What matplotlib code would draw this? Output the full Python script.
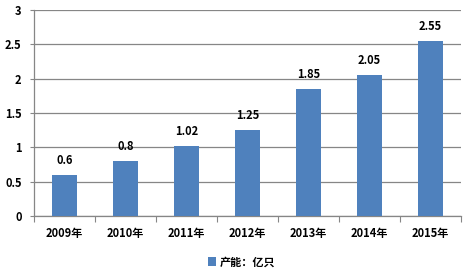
import numpy as np
import matplotlib
matplotlib.use("Agg")
import matplotlib.pyplot as plt
from matplotlib.patches import Patch

plt.rcParams["font.family"] = ["Noto Sans CJK SC", "DejaVu Sans"]

years = ["2009年", "2010年", "2011年", "2012年", "2013年", "2014年", "2015年"]
capacity = [0.6, 0.8, 1.02, 1.25, 1.85, 2.05, 2.55]
value_labels = ["0.6", "0.8", "1.02", "1.25", "1.85", "2.05", "2.55"]
series_name = "产能：亿只"

bar_color = "#4F81BD"
grid_color = "#868686"

fig = plt.figure(figsize=(4.67, 2.70), dpi=100)
ax = fig.add_axes([0.073, 0.2, 0.914, 0.763])

x = np.arange(len(years))
ax.bar(x, capacity, width=0.4, color=bar_color, zorder=3)

for xi, v, lab in zip(x, capacity, value_labels):
    ax.text(xi, v + 0.12, lab, ha="center", va="bottom",
            fontsize=8, fontweight="bold", color="black")

ax.set_xlim(-0.5, len(years) - 0.5)
ax.set_ylim(0, 3)
ax.set_yticks(np.arange(0, 3.01, 0.5))
ax.set_yticklabels(["0", "0.5", "1", "1.5", "2", "2.5", "3"],
                   fontsize=8, fontweight="bold")
ax.yaxis.grid(True, color=grid_color, linewidth=0.9, zorder=0)

# category ticks between bars, labels centred under bars
ax.set_xticks(np.arange(-0.5, len(years), 1.0))
ax.set_xticklabels([])
ax.set_xticks(x, minor=True)
ax.set_xticklabels(years, minor=True, fontsize=8, fontweight="bold")
ax.tick_params(axis="x", which="minor", length=0, pad=8)
ax.tick_params(axis="x", which="major", length=4, color=grid_color, direction="out")
ax.tick_params(axis="y", length=3, color=grid_color, pad=6)

for s in ["top", "right"]:
    ax.spines[s].set_visible(False)
for s in ["left", "bottom"]:
    ax.spines[s].set_color(grid_color)
    ax.spines[s].set_linewidth(0.9)

handle = Patch(facecolor=bar_color, label=series_name)
fig.legend(handles=[handle], loc="center", bbox_to_anchor=(0.517, 0.03),
           frameon=False, handlelength=0.8, handleheight=0.8, handletextpad=0.3,
           borderpad=0, prop={"size": 8, "weight": "bold"})

fig.savefig("out.png", dpi=100)
